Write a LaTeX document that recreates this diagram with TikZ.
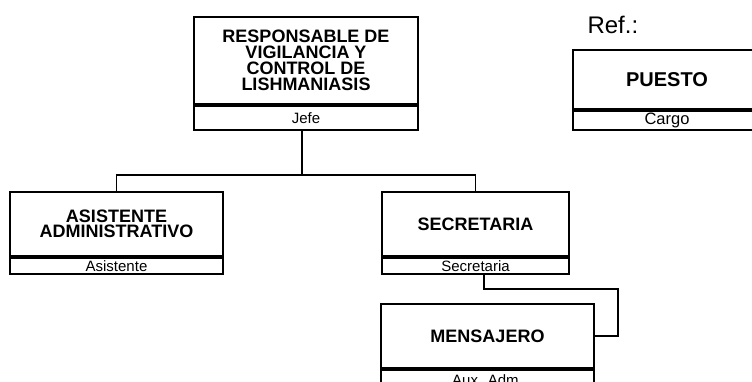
\documentclass[tikz,border=0pt]{standalone}
\usepackage{fontspec}
\setmainfont{Liberation Sans}
\usetikzlibrary{positioning}

\tikzset{
  titulo/.style={draw,line width=1.9pt,inner sep=0pt,align=center,
    font=\bfseries\fontsize{18}{15}\selectfont},
  cargo/.style={draw,line width=1.9pt,inner sep=0pt,
    font=\fontsize{15}{15}\selectfont},
  linea/.style={line width=1.9pt}
}

\begin{document}
\begin{tikzpicture}[x=1pt,y=-1pt]
\clip (0,0) rectangle (752,381);

% referencia
\node[anchor=base west,font=\fontsize{24}{24}\selectfont] (ref) at (584,33.5) {Ref.:};
\node[titulo,minimum width=188pt,minimum height=59pt,font=\bfseries\fontsize{20}{20}\selectfont] (refTit) at (667,79.5) {PUESTO};
\node[cargo,minimum width=188pt,minimum height=19pt,below=0pt of refTit,font=\fontsize{16.5}{16.5}\selectfont] (refCargo) {Cargo};

% puestos
\node[titulo,minimum width=224pt,minimum height=87pt,font=\bfseries\fontsize{18}{16}\selectfont] (jefeTit) at (306,60.5)
  {RESPONSABLE DE\\VIGILANCIA Y\\CONTROL DE\\LISHMANIASIS};
\node[cargo,minimum width=224pt,minimum height=24pt,below=0pt of jefeTit] (jefe) {Jefe};

\node[titulo,minimum width=213pt,minimum height=64pt,font=\bfseries\fontsize{18}{14.5}\selectfont] (asisTit) at (116.5,224)
  {ASISTENTE\\ADMINISTRATIVO};
\node[cargo,minimum width=213pt,minimum height=16pt,below=0pt of asisTit] (asis) {Asistente};

\node[titulo,minimum width=187pt,minimum height=64pt] (secrTit) at (475.5,224) {SECRETARIA};
\node[cargo,minimum width=187pt,minimum height=16pt,below=0pt of secrTit] (secr) {Secretaria};

\node[titulo,minimum width=213pt,minimum height=64pt] (mensTit) at (487.5,336) {MENSAJERO};
\node[cargo,minimum width=213pt,minimum height=20pt,below=0pt of mensTit] (mens) {Aux. Adm.};

% conexiones
\draw[linea] ([xshift=-4pt]jefe.south) -- ++(0,44) coordinate (bus);
\draw[linea] (asisTit.north) |- (bus) -| (secrTit.north);
\draw[linea] ([xshift=8.5pt]secr.south) -- ++(0,14) -| ([xshift=23pt]mensTit.east) -- (mensTit.east);

\end{tikzpicture}
\end{document}
